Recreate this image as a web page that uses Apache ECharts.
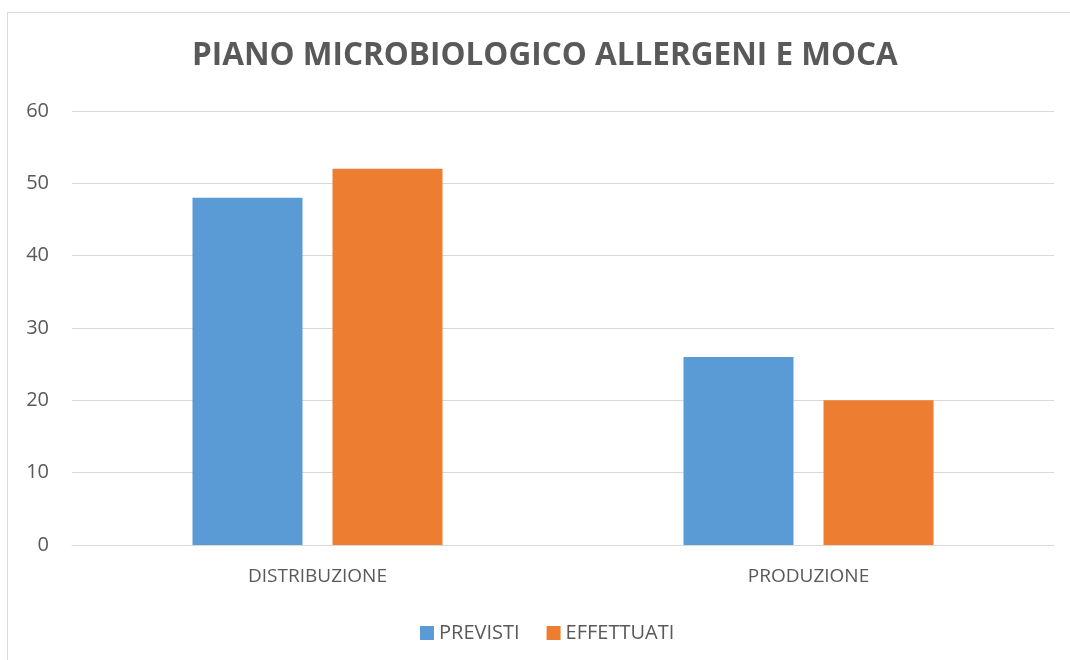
<!DOCTYPE html>
<html><head><meta charset="utf-8">
<script src="https://cdn.jsdelivr.net/npm/echarts@6/dist/echarts.min.js"></script>
<style>html,body{margin:0;padding:0;background:#fff}#c{width:1070px;height:660px}</style>
</head><body><div id="c"></div>
<script>
const categories = ['DISTRIBUZIONE', 'PRODUZIONE'];
const previsti = [48, 26];
const effettuati = [52, 20];
const seriesNames = ['PREVISTI', 'EFFETTUATI'];
const titleText = 'PIANO MICROBIOLOGICO ALLERGENI E MOCA';

const font = '"Open Sans", "Liberation Sans", sans-serif';
const chart = echarts.init(document.getElementById('c'));
chart.setOption({
  backgroundColor: '#fff',
  animation: false,
  graphic: [
    {type:'rect', shape:{x:7.5,y:12.5,width:1100,height:700}, style:{fill:'none',stroke:'#d9d9d9',lineWidth:1}, silent:true, z:-1},
    {type:'text', left: 192, top: 40, style:{text: titleText, fontFamily: font, fontSize: 31.5, fontWeight: 'bold', fill:'#595959'}, silent:true}
  ],
  legend: {data: seriesNames, top: 618, left: 415, itemWidth: 14, itemHeight: 14, itemGap: 27,
    icon: 'rect', textStyle:{fontFamily: font, fontSize: 20, color:'#595959'}},
  grid: {left: 72, right: 16, top: 111, bottom: 115},
  xAxis: {type:'category', data: categories,
    axisLine:{lineStyle:{color:'#d9d9d9'}}, axisTick:{show:false},
    axisLabel:{fontFamily: font, fontSize: 19, color:'#595959', margin: 22}},
  yAxis: {type:'value', min:0, max:60, interval:10,
    axisLine:{show:false}, axisTick:{show:false},
    splitLine:{lineStyle:{color:'#d9d9d9', width:1}},
    axisLabel:{fontFamily: font, fontSize: 20, color:'#595959', margin: 23}},
  series: [
    {name: seriesNames[0], type:'bar', data: previsti, barWidth: 110, barGap: '27.3%', itemStyle:{color:'#5b9bd5'}},
    {name: seriesNames[1], type:'bar', data: effettuati, barWidth: 110, itemStyle:{color:'#ed7d31'}}
  ]
});
</script></body></html>
